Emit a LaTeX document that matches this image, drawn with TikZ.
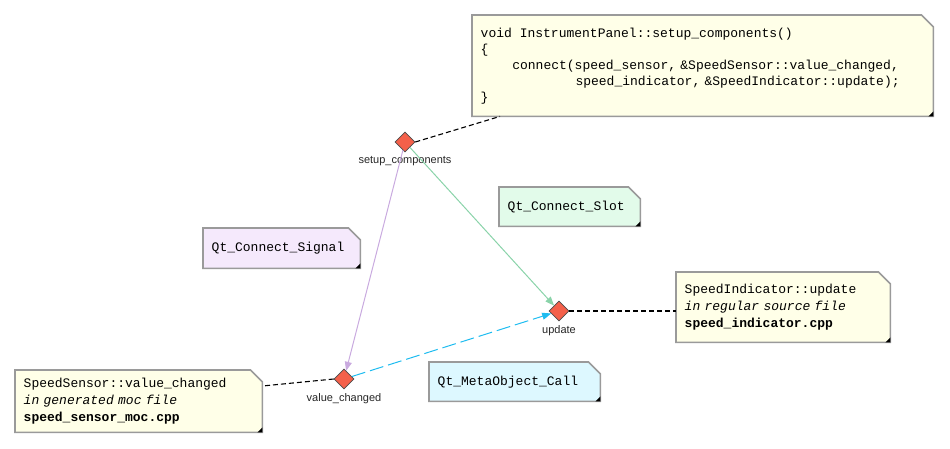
\documentclass[tikz,border=0pt]{standalone}
\usepackage{fontspec}
\setmainfont{Liberation Sans}
\setmonofont{Liberation Mono}
\usetikzlibrary{shapes.geometric, arrows.meta, positioning, backgrounds}

\definecolor{noteyellow}{HTML}{FFFFE8}
\definecolor{notegreen}{HTML}{E2FBEA}
\definecolor{notelilac}{HTML}{F5E9FC}
\definecolor{notecyan}{HTML}{DDF8FF}
\definecolor{noteframe}{HTML}{9A9A9A}
\definecolor{pinred}{HTML}{F4604A}
\definecolor{signalpurple}{HTML}{C9AADF}
\definecolor{slotgreen}{HTML}{8AD3A9}
\definecolor{callcyan}{HTML}{1EBCF0}

% frame of a note: cut corner top right, small black tick bottom right
\newcommand{\noteframe}[2]{%
  \begin{scope}[on background layer]
    \draw[noteframe, line width=1.6pt, fill=#2]
      (#1.south west) -- (#1.north west) -- ([xshift=-12pt]#1.north east)
      -- ([yshift=-12pt]#1.north east) -- (#1.south east) -- cycle;
  \end{scope}
  \fill (#1.south east) -- ++(-5pt,0) -- ++(5pt,5pt) -- cycle;
}

\begin{document}
\begin{tikzpicture}[
    x=1pt, y=-1pt,
    note/.style={rectangle, anchor=north west, align=left, inner xsep=8.5pt,
      minimum width=#1, text width=#1-17pt,
      font=\fontsize{13}{16}\selectfont\ttfamily},
    pin/.style={diamond, draw=black!70, fill=pinred, inner sep=0pt,
      minimum size=20pt, line width=0.6pt},
    pinlabel/.style={font=\fontsize{11}{12}\selectfont, text=black!85},
    link/.style={dash pattern=on 5pt off 3pt, line width=1.1pt},
    flow/.style={line width=1pt, -{Triangle[length=9pt, width=7pt]}},
]
\useasboundingbox (0,0) rectangle (950,449);

% Pins
\node[pin] (setup) at (405,142) {};
\node[pinlabel, below=1pt of setup] {setup\_components};
\node[pin] (update) at (559,311) {};
\node[pinlabel, below=1pt of update] {update};
\node[pin] (changed) at (344,379) {};
\node[pinlabel, below=1pt of changed] {value\_changed};

% Notes
\node[note=461pt, minimum height=101pt] (code) at (472,15)
  {void\hspace*{7.9pt}InstrumentPanel::setup\_components()\\
   \{\\
   \hspace*{31.6pt}connect(speed\_sensor, \&SpeedSensor::value\_changed,\\
   \hspace*{94.8pt}speed\_indicator, \&SpeedIndicator::update);\\
   \}};
\noteframe{code}{noteyellow}

\node[note=141pt, minimum height=39pt] (slot) at (499,187)
  {Qt\_Connect\_Slot};
\noteframe{slot}{notegreen}

\node[note=157pt, minimum height=40pt] (signal) at (203,228)
  {Qt\_Connect\_Signal};
\noteframe{signal}{notelilac}

\node[note=214pt, minimum height=70pt,
  font=\fontsize{13}{17}\selectfont\ttfamily] (indicator) at (676,272)
  {SpeedIndicator::update\\
   \textit{in regular source file}\\
   \textbf{speed\_indicator.cpp}};
\noteframe{indicator}{noteyellow}

\node[note=247pt, minimum height=62pt,
  font=\fontsize{13}{17}\selectfont\ttfamily] (sensor) at (15,370)
  {SpeedSensor::value\_changed\\
   \textit{in generated moc file}\\
   \textbf{speed\_sensor\_moc.cpp}};
\noteframe{sensor}{noteyellow}

\node[note=171pt, minimum height=39pt] (metacall) at (429,362)
  {Qt\_MetaObject\_Call};
\noteframe{metacall}{notecyan}

% Note links
\draw[link] (setup.east) -- ([xshift=28pt]code.south west);
\draw[link] (update.east) -- (indicator.west |- update);
\draw[link] (changed.west) -- ([yshift=-16pt]sensor.north east);

% Connections
\draw[flow, signalpurple] (setup) -- (changed);
\draw[flow, slotgreen] (setup) -- (update);
\draw[flow, callcyan, dash pattern=on 14pt off 5pt] (changed) -- (update);

\end{tikzpicture}
\end{document}
